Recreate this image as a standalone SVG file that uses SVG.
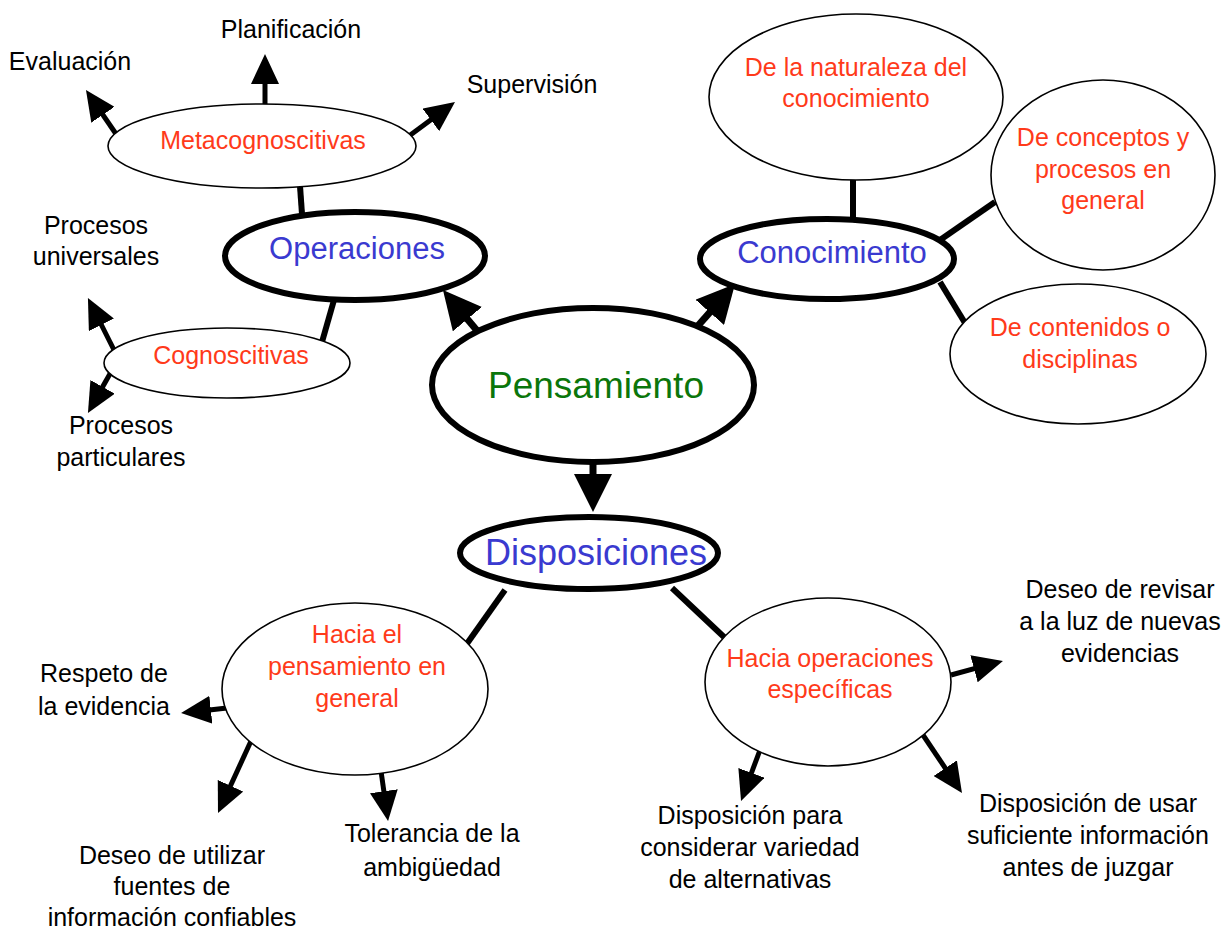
<svg xmlns="http://www.w3.org/2000/svg" width="1228" height="930" viewBox="0 0 1228 930">
<style>
.main{fill:#fff;stroke:#000;stroke-width:6}
.sub{fill:#fff;stroke:#000;stroke-width:1.6}
.t{font-family:"Liberation Sans",Arial,sans-serif;text-anchor:middle}
.lbl{font-size:25px;fill:#000}
.red{font-size:25px;fill:#ff3a1a}
.blue{fill:#3a3ad0}
.green{fill:#0b760b}
.ln{stroke:#000;stroke-width:6;fill:none}
.ar{stroke:#000;stroke-width:5;fill:none;marker-end:url(#sm)}
.arb{stroke:#000;stroke-width:7;fill:none;marker-end:url(#bg)}
</style>
<defs>
<marker id="sm" viewBox="0 0 30 28" refX="6" refY="14" markerWidth="30" markerHeight="28" markerUnits="userSpaceOnUse" orient="auto"><path d="M0,0 L30,14 L0,28 z" fill="#000"/></marker>
<marker id="bg" viewBox="0 0 38 38" refX="14" refY="19" markerWidth="38" markerHeight="38" markerUnits="userSpaceOnUse" orient="auto"><path d="M0,0 L38,19 L0,38 z" fill="#000"/></marker>
</defs>
<rect width="1228" height="930" fill="#fff"/>
<g id="connectors">
<line class="arb" x1="490" y1="346" x2="458.4" y2="308.4"/>
<line class="arb" x1="680" y1="346" x2="719.1" y2="301.9"/>
<line class="arb" x1="593" y1="462" x2="593" y2="488"/>
<line class="ln" x1="300" y1="186" x2="302" y2="214"/>
<line class="ln" x1="334" y1="300" x2="322" y2="342"/>
<line class="ln" x1="853" y1="176" x2="853" y2="220"/>
<line class="ln" x1="940" y1="240" x2="995" y2="202"/>
<line class="ln" x1="940" y1="282" x2="965" y2="323"/>
<line class="ln" x1="505" y1="590" x2="466" y2="645"/>
<line class="ln" x1="672" y1="588" x2="724" y2="637"/>
<line class="ar" x1="116" y1="134" x2="99.5" y2="109.8"/>
<line class="ar" x1="265" y1="106" x2="265" y2="78"/>
<line class="ar" x1="409" y1="136" x2="435.7" y2="116.3"/>
<line class="ar" x1="114" y1="350" x2="98.7" y2="319.5"/>
<line class="ar" x1="111" y1="372" x2="99.7" y2="392.1"/>
<line class="ar" x1="227" y1="708" x2="204.9" y2="710.4"/>
<line class="ar" x1="251" y1="741" x2="228" y2="791.2"/>
<line class="ar" x1="381" y1="771" x2="384.7" y2="797.2"/>
<line class="ar" x1="951" y1="675" x2="979.8" y2="667.2"/>
<line class="ar" x1="760" y1="750" x2="749.4" y2="778.5"/>
<line class="ar" x1="923" y1="735" x2="948.6" y2="773.1"/>
</g>
<g id="pensamiento"><ellipse class="main" cx="593" cy="385" rx="161" ry="77"/><text class="t green" x="596" y="398" font-size="37">Pensamiento</text></g>
<g id="operaciones"><ellipse class="main" cx="355" cy="256" rx="130" ry="44"/><text class="t blue" x="357" y="259" font-size="31">Operaciones</text></g>
<g id="conocimiento"><ellipse class="main" cx="827" cy="259" rx="127" ry="40"/><text class="t blue" x="832" y="263" font-size="31">Conocimiento</text></g>
<g id="disposiciones"><ellipse class="main" cx="589" cy="553" rx="129" ry="36"/><text class="t blue" x="596" y="565" font-size="36">Disposiciones</text></g>
<g id="metacognoscitivas"><ellipse class="sub" cx="262" cy="146" rx="154" ry="42"/><text class="t red" x="263" y="149">Metacognoscitivas</text></g>
<g id="cognoscitivas"><ellipse class="sub" cx="227" cy="363" rx="123" ry="35"/><text class="t red" x="231" y="364">Cognoscitivas</text></g>
<g id="naturaleza"><ellipse class="sub" cx="856" cy="97" rx="147" ry="83"/><text class="t red" x="856" y="76">De la naturaleza del</text><text class="t red" x="856" y="107">conocimiento</text></g>
<g id="conceptos"><ellipse class="sub" cx="1103" cy="175" rx="112" ry="95"/><text class="t red" x="1103" y="146">De conceptos y</text><text class="t red" x="1103" y="178">procesos en</text><text class="t red" x="1103" y="209">general</text></g>
<g id="contenidos"><ellipse class="sub" cx="1078" cy="354" rx="128" ry="70"/><text class="t red" x="1080" y="336">De contenidos o</text><text class="t red" x="1080" y="368">disciplinas</text></g>
<g id="hacia-general"><ellipse class="sub" cx="355" cy="689" rx="133" ry="86"/><text class="t red" x="357" y="643">Hacia el</text><text class="t red" x="357" y="675">pensamiento en</text><text class="t red" x="357" y="707">general</text></g>
<g id="hacia-especificas"><ellipse class="sub" cx="828" cy="682" rx="123" ry="84"/><text class="t red" x="830" y="667">Hacia operaciones</text><text class="t red" x="830" y="698">específicas</text></g>
<g id="planificacion"><text class="t lbl" x="291" y="38">Planificación</text></g>
<g id="evaluacion"><text class="t lbl" x="70" y="70">Evaluación</text></g>
<g id="supervision"><text class="t lbl" x="532" y="93">Supervisión</text></g>
<g id="universales"><text class="t lbl" x="96" y="234">Procesos</text><text class="t lbl" x="96" y="265">universales</text></g>
<g id="particulares"><text class="t lbl" x="121" y="434">Procesos</text><text class="t lbl" x="121" y="466">particulares</text></g>
<g id="revisar"><text class="t lbl" x="1120" y="598">Deseo de revisar</text><text class="t lbl" x="1120" y="630">a la luz de nuevas</text><text class="t lbl" x="1120" y="662">evidencias</text></g>
<g id="respeto"><text class="t lbl" x="104" y="682">Respeto de</text><text class="t lbl" x="104" y="715">la evidencia</text></g>
<g id="utilizar"><text class="t lbl" x="172" y="864">Deseo de utilizar</text><text class="t lbl" x="172" y="895">fuentes de</text><text class="t lbl" x="172" y="926">información confiables</text></g>
<g id="tolerancia"><text class="t lbl" x="432" y="842">Tolerancia de la</text><text class="t lbl" x="432" y="876">ambigüedad</text></g>
<g id="disp-para"><text class="t lbl" x="750" y="824">Disposición para</text><text class="t lbl" x="750" y="856">considerar variedad</text><text class="t lbl" x="750" y="888">de alternativas</text></g>
<g id="disp-usar"><text class="t lbl" x="1088" y="812">Disposición de usar</text><text class="t lbl" x="1088" y="844">suficiente información</text><text class="t lbl" x="1088" y="876">antes de juzgar</text></g>
</svg>
